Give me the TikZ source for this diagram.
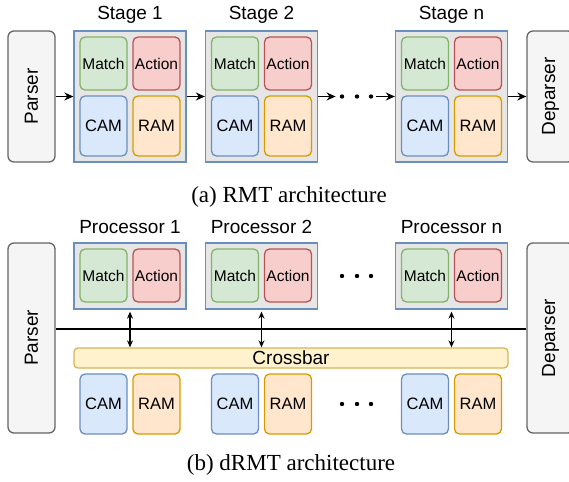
\documentclass[tikz,border=0pt]{standalone}
\usepackage{fontspec}
\setmainfont{Liberation Serif}
\setsansfont{Liberation Sans}
\usetikzlibrary{arrows.meta,positioning}

\definecolor{verdeF}{HTML}{D5E8D4}\definecolor{verdeB}{HTML}{82B366}
\definecolor{rojoF}{HTML}{F8CECC}\definecolor{rojoB}{HTML}{B85450}
\definecolor{azulF}{HTML}{DAE8FC}\definecolor{azulB}{HTML}{6C8EBF}
\definecolor{naranjaF}{HTML}{FFE6CC}\definecolor{naranjaB}{HTML}{D79B00}
\definecolor{amarilloF}{HTML}{FFF2CC}\definecolor{amarilloB}{HTML}{D6B656}
\definecolor{grisF}{HTML}{F5F5F5}\definecolor{grisB}{HTML}{666666}
\definecolor{grisC}{HTML}{E6E6E6}

\begin{document}
\begin{tikzpicture}[x=1pt,y=-1pt,
    bloque/.style={rounded corners=5pt,line width=1.3pt,inner sep=0pt,minimum width=47pt},
    tabla/.style={bloque,minimum height=53pt,font=\sffamily\fontsize{15.5}{17}\selectfont},
    memoria/.style={bloque,minimum height=60pt,font=\sffamily\fontsize{16.5}{19}\selectfont},
    contenedor/.style={draw=azulB,fill=grisC,line width=1.3pt,inner sep=0pt,minimum width=112pt},
    extremo/.style={draw=grisB,fill=grisF,rounded corners=6pt,line width=1.3pt,inner sep=0pt,
        minimum width=47pt,font=\sffamily\fontsize{19}{22}\selectfont},
    etiq/.style={font=\sffamily\fontsize{19}{22}\selectfont,inner sep=0pt},
    leyenda/.style={font=\fontsize{23}{26}\selectfont,inner sep=0pt,anchor=base},
    flecha/.style={line width=1.6pt,-{Stealth[length=9pt,width=8pt]}},
    flechadoble/.style={line width=1.2pt,{Stealth[length=7pt,width=6pt]}-{Stealth[length=7pt,width=6pt]}},
    punto/.style={circle,fill=black,inner sep=0pt,minimum size=4.4pt}]
    \useasboundingbox (0,0) rectangle (569,481);
    \clip (0,0) rectangle (569,481);

    %(a) RMT
    \node[extremo,minimum height=131pt] (parserA) at (31.5,96.5) {\rotatebox{90}{Parser}};
    \node[extremo,minimum height=131pt] (deparserA) at (550.5,96.5) {\rotatebox{90}{Deparser}};
    \foreach \cx/\nm in {130/1,261.5/2,451.5/n}{
        \node[contenedor,minimum height=131pt] (s\nm) at (\cx,96.5) {};
        \node[etiq] (s\nm t) at (\cx,15) {Stage \nm};
        \node[tabla,draw=verdeB,fill=verdeF] (s\nm m) at (\cx-26.5,63.5) {Match};
        \node[tabla,draw=rojoB,fill=rojoF] (s\nm a) at (\cx+26.5,63.5) {Action};
        \node[memoria,draw=azulB,fill=azulF] (s\nm c) at (\cx-26.5,126) {CAM};
        \node[memoria,draw=naranjaB,fill=naranjaF] (s\nm r) at (\cx+26.5,126) {RAM};
    }
    \foreach \i/\x in {1/342,2/357,3/371}{
        \node[punto] (pa\i) at (\x,96.5) {};
    }
    \draw[flecha] (parserA) -- (s1);
    \draw[flecha] (s1) -- (s2);
    \draw[flecha,shorten >=4pt] (s2) -- (pa1);
    \draw[flecha,shorten <=3pt] (pa3) -- (sn);
    \draw[flecha] (sn) -- (deparserA);
    \node[leyenda] (capA) at (289,202) {(a) RMT architecture};

    %(b) dRMT
    \node[extremo,minimum height=190pt] (parserB) at (31.5,338) {\rotatebox{90}{Parser}};
    \node[extremo,minimum height=190pt] (deparserB) at (550.5,338) {\rotatebox{90}{Deparser}};
    \node[bloque,draw=amarilloB,fill=amarilloF,rounded corners=4pt,minimum width=434pt,
        minimum height=20pt,font=\sffamily\fontsize{19}{22}\selectfont] (xbar) at (291,358) {Crossbar};
    \coordinate (bus) at (291,329);
    \draw[line width=2pt] (parserB.east |- bus) -- (deparserB.west |- bus);
    \foreach \cx/\nm in {130/1,261.5/2,451.5/n}{
        \node[contenedor,minimum height=66pt] (p\nm) at (\cx,276) {};
        \node[etiq] (p\nm t) at (\cx,227) {Processor \nm};
        \node[tabla,draw=verdeB,fill=verdeF] (p\nm m) at (\cx-26.5,275.5) {Match};
        \node[tabla,draw=rojoB,fill=rojoF] (p\nm a) at (\cx+26.5,275.5) {Action};
        \node[memoria,draw=azulB,fill=azulF] (p\nm c) at (\cx-26.5,404) {CAM};
        \node[memoria,draw=naranjaB,fill=naranjaF] (p\nm r) at (\cx+26.5,404) {RAM};
        \draw[flechadoble] ([yshift=-2pt]p\nm.south) -- (p\nm |- xbar.north);
    }
    \foreach \i/\x in {1/342,2/357,3/371}{
        \node[punto] (pb\i) at (\x,276) {};
        \node[punto] (pc\i) at (\x,404) {};
    }
    \node[leyenda] (capB) at (291,470) {(b) dRMT architecture};
\end{tikzpicture}
\end{document}
